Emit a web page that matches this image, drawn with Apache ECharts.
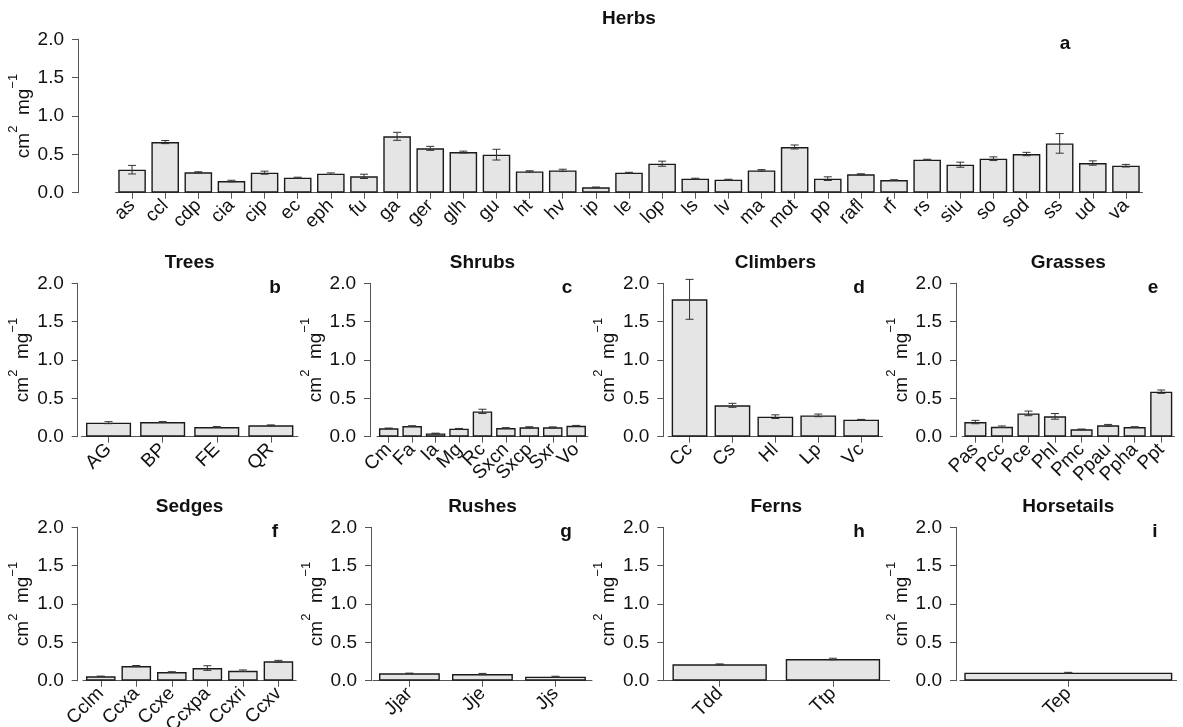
<!DOCTYPE html>
<html>
<head>
<meta charset="utf-8">
<script src="https://cdn.jsdelivr.net/npm/echarts@6/dist/echarts.min.js"></script>
<style>
  html, body { margin: 0; padding: 0; background: #ffffff; }
  #chart { width: 1183px; height: 727px; }
</style>
</head>
<body>
<div id="chart"></div>
<script>
// Specific leaf area (cm² mg⁻¹): group means and standard errors

const herbsCats = ['as','ccl','cdp','cia','cip','ec','eph','fu','ga','ger','glh','gu','ht','hv','ip','le','lop','ls','lv','ma','mot','pp','rafl','rf','rs','siu','so','sod','ss','ud','va'];
const herbsMean = [0.30,0.66,0.265,0.152,0.261,0.196,0.248,0.213,0.735,0.578,0.530,0.496,0.278,0.291,0.070,0.261,0.378,0.183,0.170,0.291,0.596,0.183,0.239,0.165,0.430,0.365,0.443,0.504,0.643,0.387,0.352];
const herbsSe   = [0.056,0.02,0.008,0.01,0.02,0.006,0.01,0.028,0.052,0.026,0.012,0.07,0.008,0.015,0.004,0.005,0.033,0.006,0.005,0.01,0.026,0.024,0.008,0.004,0.006,0.033,0.024,0.022,0.128,0.028,0.017];

const treesCats = ['AG','BP','FE','QR'];
const treesMean = [0.183,0.191,0.126,0.148];
const treesSe   = [0.013,0.006,0.006,0.006];

const shrubsCats = ['Cm','Fa','Ia','Mg','Rc','Sxcn','Sxcp','Sxr','Vo'];
const shrubsMean = [0.109,0.139,0.043,0.104,0.330,0.113,0.122,0.122,0.143];
const shrubsSe   = [0.004,0.004,0.003,0.004,0.028,0.005,0.008,0.006,0.004];

const climbersCats = ['Cc','Cs','Hl','Lp','Vc'];
const climbersMean = [1.791,0.409,0.261,0.278,0.222];
const climbersSe   = [0.26,0.026,0.024,0.017,0.004];

const grassesCats = ['Pas','Pcc','Pce','Phl','Pmc','Ppau','Ppha','Ppt'];
const grassesMean = [0.191,0.130,0.304,0.265,0.096,0.148,0.126,0.587];
const grassesSe   = [0.022,0.010,0.030,0.037,0.004,0.012,0.004,0.022];

const sedgesCats = ['Cclm','Ccxa','Ccxe','Ccxpa','Ccxri','Ccxv'];
const sedgesMean = [0.057,0.191,0.113,0.165,0.130,0.252];
const sedgesSe   = [0.003,0.007,0.004,0.030,0.010,0.013];

const rushesCats = ['Jjar','Jje','Jjs'];
const rushesMean = [0.096,0.087,0.052];
const rushesSe   = [0.003,0.008,0.006];

const fernsCats = ['Tdd','Ttp'];
const fernsMean = [0.213,0.283];
const fernsSe   = [0.006,0.010];

const horsetailsCats = ['Tep'];
const horsetailsMean = [0.104];
const horsetailsSe   = [0.005];

const yTicks = [0, 0.5, 1.0, 1.5, 2.0];

// Panel layout (pixels)
const panels = [
  { title: 'Herbs',      tag: 'a', cats: herbsCats,      mean: herbsMean,      se: herbsSe,      left: 115.5, width: 1027,  top: 39.3,  axisX: 78,    tagX: 1065 },
  { title: 'Trees',      tag: 'b', cats: treesCats,      mean: treesMean,      se: treesSe,      left: 81.5,  width: 216.4, top: 283.3, axisX: 77.7,  tagX: 275 },
  { title: 'Shrubs',     tag: 'c', cats: shrubsCats,     mean: shrubsMean,     se: shrubsSe,     left: 377,   width: 210.9, top: 283.3, axisX: 370,   tagX: 567 },
  { title: 'Climbers',   tag: 'd', cats: climbersCats,   mean: climbersMean,   se: climbersSe,   left: 668.1, width: 214.5, top: 283.3, axisX: 663.3, tagX: 859 },
  { title: 'Grasses',    tag: 'e', cats: grassesCats,    mean: grassesMean,    se: grassesSe,    left: 962.1, width: 212.4, top: 283.3, axisX: 956,   tagX: 1153 },
  { title: 'Sedges',     tag: 'f', cats: sedgesCats,     mean: sedgesMean,     se: sedgesSe,     left: 83,    width: 213.2, top: 527.3, axisX: 77.7,  tagX: 275 },
  { title: 'Rushes',     tag: 'g', cats: rushesCats,     mean: rushesMean,     se: rushesSe,     left: 372.9, width: 219.1, top: 527.3, axisX: 371,   tagX: 566 },
  { title: 'Ferns',      tag: 'h', cats: fernsCats,      mean: fernsMean,      se: fernsSe,      left: 663,   width: 226.6, top: 527.3, axisX: 663.3, tagX: 859 },
  { title: 'Horsetails', tag: 'i', cats: horsetailsCats, mean: horsetailsMean, se: horsetailsSe, left: 960,   width: 216.6, top: 527.3, axisX: 956,   tagX: 1155, barWidth: 208 }
];

const PLOT_H = 153.4;
const FONT = '"Liberation Sans", Arial, Helvetica, sans-serif';
const AXIS_COLOR = '#555555';
const TEXT_COLOR = '#111111';

function renderErr(params, api) {
  const x = api.value(0), m = api.value(1), e = api.value(2);
  const hi = api.coord([x, m + e]);
  const lo = api.coord([x, m - e]);
  const cap = 4;
  const st = { stroke: '#333333', lineWidth: 1 };
  return {
    type: 'group',
    children: [
      { type: 'line', shape: { x1: hi[0], y1: hi[1], x2: lo[0], y2: lo[1] }, style: st },
      { type: 'line', shape: { x1: hi[0] - cap, y1: hi[1], x2: hi[0] + cap, y2: hi[1] }, style: st },
      { type: 'line', shape: { x1: lo[0] - cap, y1: lo[1], x2: lo[0] + cap, y2: lo[1] }, style: st }
    ]
  };
}

const grid = [], xAxis = [], yAxis = [], series = [], graphic = [];

panels.forEach((p, i) => {
  grid.push({ left: p.left, top: p.top, width: p.width, height: PLOT_H, containLabel: false, outerBoundsMode: 'none' });
  xAxis.push({
    type: 'category', gridIndex: i, data: p.cats,
    axisLine: { show: true, lineStyle: { color: AXIS_COLOR, width: 1 } },
    axisTick: { show: true, alignWithLabel: true, length: 6, lineStyle: { color: AXIS_COLOR } },
    axisLabel: { interval: 0, rotate: 45, margin: 10, fontSize: 19, fontFamily: FONT, color: TEXT_COLOR, hideOverlap: false },
    splitLine: { show: false }
  });
  yAxis.push({
    type: 'value', gridIndex: i, min: yTicks[0], max: yTicks[yTicks.length - 1], interval: 0.5,
    offset: p.left - p.axisX,
    axisLine: { show: true, lineStyle: { color: AXIS_COLOR, width: 1 } },
    axisTick: { show: true, length: 6, lineStyle: { color: AXIS_COLOR } },
    axisLabel: { margin: 14, fontSize: 19, fontFamily: FONT, color: TEXT_COLOR, formatter: v => v.toFixed(1) },
    splitLine: { show: false },
    name: '{n|cm}{s|2}{n|  mg}{s|−1}',
    nameLocation: 'middle', nameRotate: 90, nameGap: 45, nameMoveOverlap: false,
    nameTextStyle: {
      fontFamily: FONT, color: TEXT_COLOR,
      rich: {
        n: { fontSize: 19, fontFamily: FONT, color: TEXT_COLOR, lineHeight: 26, verticalAlign: 'bottom' },
        s: { fontSize: 13, fontFamily: FONT, color: TEXT_COLOR, lineHeight: 26, verticalAlign: 'top' }
      }
    }
  });
  const bar = {
    type: 'bar', xAxisIndex: i, yAxisIndex: i, data: p.mean,
    barCategoryGap: '16.7%', silent: true,
    itemStyle: { color: '#e5e5e5', borderColor: '#1a1a1a', borderWidth: 1.4 }
  };
  if (p.barWidth) bar.barWidth = p.barWidth;
  series.push(bar);
  series.push({
    type: 'custom', xAxisIndex: i, yAxisIndex: i, silent: true, z: 5,
    renderItem: renderErr,
    data: p.cats.map((c, k) => [k, p.mean[k], p.se[k]])
  });
  const cx = p.left + p.width / 2;
  graphic.push({
    type: 'text', x: cx, y: p.top - 21,
    style: { text: p.title, font: 'bold 19px ' + FONT, fill: TEXT_COLOR,
             align: 'center', verticalAlign: 'middle', textAlign: 'center', textVerticalAlign: 'middle' }
  });
  graphic.push({
    type: 'text', x: p.tagX, y: p.top + 4.5,
    style: { text: p.tag, font: 'bold 19px ' + FONT, fill: TEXT_COLOR,
             align: 'center', verticalAlign: 'middle', textAlign: 'center', textVerticalAlign: 'middle' }
  });
});

const chart = echarts.init(document.getElementById('chart'), null, { renderer: 'canvas' });
chart.setOption({
  animation: false,
  backgroundColor: '#ffffff',
  grid, xAxis, yAxis, series, graphic
});
</script>
</body>
</html>
